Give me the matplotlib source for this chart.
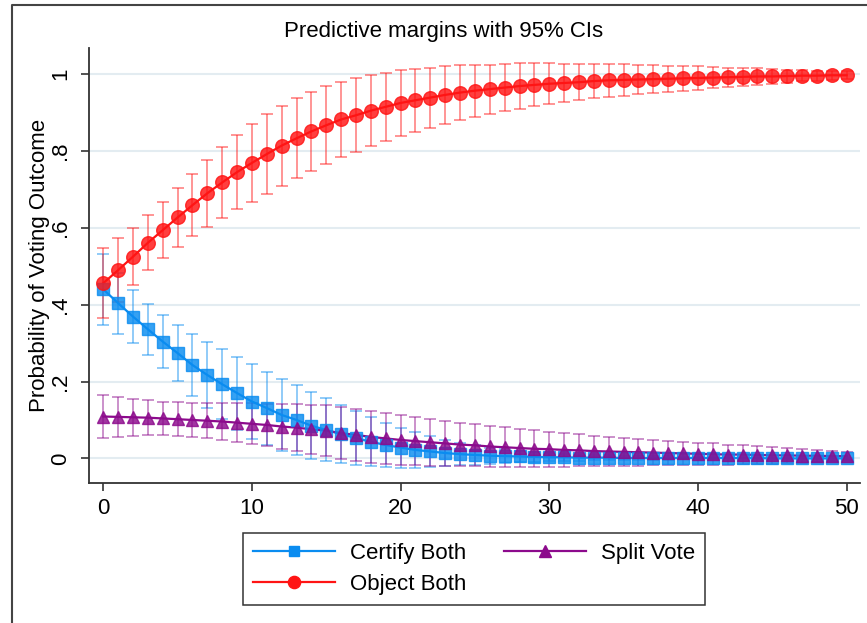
import matplotlib
matplotlib.use("Agg")
import matplotlib.pyplot as plt
from matplotlib.lines import Line2D

# ---------------- data ----------------
x_values = list(range(51))

certify_both = [0.440, 0.404, 0.369, 0.336, 0.304, 0.274, 0.243, 0.217, 0.193, 0.170,
                0.148, 0.131, 0.113, 0.100, 0.085, 0.074, 0.063, 0.053, 0.043, 0.035,
                0.028, 0.022, 0.018, 0.014, 0.011, 0.009, 0.007, 0.006, 0.005, 0.004,
                0.003, 0.003, 0.002, 0.002, 0.002, 0.001, 0.001, 0.001, 0.001, 0.001,
                0.001, 0.001, 0.001, 0.001, 0.001, 0.000, 0.000, 0.000, 0.000, 0.000,
                0.000]
certify_ci = [0.093, 0.079, 0.069, 0.067, 0.069, 0.073, 0.080, 0.087, 0.091, 0.095,
              0.097, 0.095, 0.094, 0.090, 0.087, 0.082, 0.076, 0.070, 0.064, 0.058,
              0.052, 0.046, 0.040, 0.034, 0.029, 0.025, 0.021, 0.018, 0.015, 0.013,
              0.011, 0.009, 0.008, 0.007, 0.006, 0.005, 0.005, 0.004, 0.004, 0.003,
              0.003, 0.003, 0.002, 0.002, 0.002, 0.002, 0.001, 0.001, 0.001, 0.001,
              0.001]

object_both = [0.456, 0.490, 0.525, 0.561, 0.594, 0.627, 0.659, 0.690, 0.718, 0.745,
               0.769, 0.792, 0.814, 0.833, 0.851, 0.867, 0.882, 0.893, 0.905, 0.915,
               0.925, 0.932, 0.939, 0.946, 0.952, 0.957, 0.961, 0.965, 0.969, 0.972,
               0.975, 0.977, 0.979, 0.982, 0.984, 0.985, 0.986, 0.987, 0.988, 0.989,
               0.990, 0.991, 0.992, 0.993, 0.994, 0.994, 0.995, 0.996, 0.996, 0.997,
               0.997]
object_ci = [0.091, 0.083, 0.075, 0.072, 0.072, 0.077, 0.080, 0.087, 0.092, 0.097,
             0.101, 0.103, 0.104, 0.104, 0.103, 0.101, 0.098, 0.096, 0.093, 0.088,
             0.085, 0.082, 0.078, 0.075, 0.072, 0.068, 0.064, 0.061, 0.059, 0.056,
             0.053, 0.050, 0.047, 0.045, 0.043, 0.041, 0.038, 0.036, 0.034, 0.032,
             0.030, 0.028, 0.025, 0.023, 0.021, 0.019, 0.017, 0.015, 0.013, 0.011,
             0.010]

split_vote = [0.109, 0.108, 0.107, 0.106, 0.104, 0.102, 0.100, 0.098, 0.096, 0.093,
              0.090, 0.087, 0.083, 0.080, 0.076, 0.072, 0.066, 0.061, 0.056, 0.052,
              0.048, 0.045, 0.042, 0.039, 0.036, 0.034, 0.031, 0.029, 0.027, 0.025,
              0.024, 0.022, 0.021, 0.019, 0.018, 0.017, 0.016, 0.015, 0.014, 0.013,
              0.012, 0.011, 0.010, 0.010, 0.009, 0.008, 0.008, 0.007, 0.007, 0.006,
              0.006]
split_ci = [0.056, 0.052, 0.048, 0.046, 0.044, 0.044, 0.045, 0.046, 0.048, 0.050,
            0.053, 0.055, 0.058, 0.061, 0.064, 0.066, 0.068, 0.068, 0.067, 0.066,
            0.065, 0.063, 0.061, 0.059, 0.057, 0.055, 0.054, 0.052, 0.050, 0.048,
            0.046, 0.044, 0.042, 0.040, 0.038, 0.036, 0.035, 0.033, 0.032, 0.030,
            0.029, 0.028, 0.026, 0.025, 0.024, 0.022, 0.020, 0.018, 0.016, 0.013,
            0.011]

x_ticks = [0, 10, 20, 30, 40, 50]
y_ticks = [0, 0.2, 0.4, 0.6, 0.8, 1.0]
y_tick_labels = ["0", ".2", ".4", ".6", ".8", "1"]

title = "Predictive margins with 95% CIs"
y_label = "Probability of Voting Outcome"
series_names = ["Certify Both", "Object Both", "Split Vote"]

# ---------------- style ----------------
plt.rcParams["font.family"] = ["Liberation Sans", "DejaVu Sans"]
FS = 16
W, H = 867, 623
fig = plt.figure(figsize=(W / 100, H / 100), dpi=100)
fig.patch.set_facecolor("white")

ax = fig.add_axes([89 / W, 1 - 483 / H, (860 - 89) / W, (483 - 48) / H])

blue = "#0a8cf0"
red = "#ff1414"
purple = "#8c0a8c"

series = [
    (certify_both, certify_ci, blue, "s", 8.5, series_names[0]),
    (object_both, object_ci, red, "o", 9.8, series_names[1]),
    (split_vote, split_ci, purple, "^", 9.0, series_names[2]),
]

for yv, ci, col, mk, ms, name in series:
    ax.errorbar(x_values, yv, yerr=ci, fmt="none", ecolor=col, elinewidth=1.4,
                capsize=4.3, capthick=1.4, alpha=0.45, zorder=2)

handles = []
for yv, ci, col, mk, ms, name in series:
    ax.plot(x_values, yv, "-", color=col, lw=1.6, zorder=3)
    ax.plot(x_values, yv, linestyle="none", marker=mk, ms=ms, mfc=col, mec=col,
            alpha=0.82, zorder=4)
    handles.append(Line2D([0], [0], color=col, lw=1.6, marker=mk, ms=ms - 1,
                          mfc=col, mec=col, label=name))

ax.set_xlim(-0.96, 50.9)
ax.set_ylim(-0.064, 1.068)
ax.set_xticks(x_ticks)
ax.set_xticklabels([str(t) for t in x_ticks], fontsize=FS)
ax.set_yticks(y_ticks)
ax.set_yticklabels(y_tick_labels, fontsize=FS, rotation=90, va="center")
ax.tick_params(axis="both", direction="out", length=6, width=1.2, color="#333333")
ax.tick_params(axis="y", pad=7)
ax.tick_params(axis="x", pad=5)

for s in ["top", "right"]:
    ax.spines[s].set_visible(False)
for s in ["left", "bottom"]:
    ax.spines[s].set_color("#333333")
    ax.spines[s].set_linewidth(1.3)

ax.yaxis.grid(True, color="#e3ecf1", lw=1.5)
ax.set_axisbelow(True)

fig.text(444 / W, 1 - 32 / H, title, fontsize=FS, ha="center", va="center")
fig.text(40 / W, 1 - 265.5 / H, y_label, fontsize=FS, rotation=90,
         ha="center", va="center")

leg = fig.legend(handles=handles, loc="upper center", ncol=2,
                 bbox_to_anchor=(474 / W, 1 - 533 / H),
                 bbox_transform=fig.transFigure, fontsize=FS,
                 handlelength=3.7, handletextpad=0.65, columnspacing=1.7,
                 borderpad=0.45, labelspacing=0.45, borderaxespad=0,
                 fancybox=False, framealpha=1, edgecolor="#333333")
leg.get_frame().set_linewidth(1.1)

# outer frame (left and top borders of the graph region)
fig.add_artist(Line2D([12 / W, 12 / W, 1.0], [0.0, 1 - 5 / H, 1 - 5 / H],
                      transform=fig.transFigure, color="#444444", lw=1.5))

fig.savefig("out.png", dpi=100, facecolor="white")
